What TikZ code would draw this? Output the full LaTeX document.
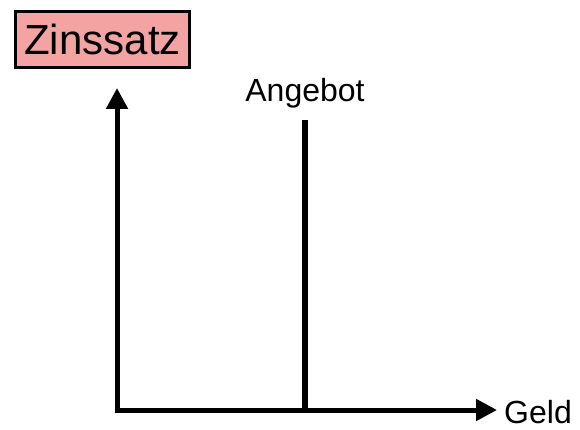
\documentclass[tikz,border=0pt]{standalone}
\usepackage{fontspec}
\setmainfont{Liberation Sans}
\usetikzlibrary{positioning,arrows.meta}
\definecolor{zinsrot}{RGB}{244,163,163}
\tikzstyle{titlebox} = [draw,fill=zinsrot,line width=3,inner xsep=9,inner ysep=3,minimum height=56,font=\fontsize{42}{44}\selectfont]
\tikzstyle{label} = [inner sep=0,font=\fontsize{32}{34}\selectfont]
\tikzstyle{axis} = [line width=5,miter limit=10,{Triangle[length=21,width=21]}-{Triangle[length=21,width=21]}]
\tikzstyle{curve} = [line width=6]

\begin{document}
\begin{tikzpicture}[x=1pt,y=-1pt]
    \useasboundingbox (0,0) rectangle (580,430);
    \node [titlebox] (title) at (102.5,39.5) {Zinssatz};
    \coordinate (o) at (117,410);
    \coordinate (ytop) at (117,88);
    \coordinate (xend) at (497,410);
    \coordinate (s1) at (305,120);
    \coordinate (s0) at (305,410);
    \node [label] (supply) at (305,93) {Angebot};
    \node [label,anchor=west] (money) at (504,412) {Geld};
    \draw [axis] (ytop) -- (o) -- (xend);
    \draw [curve] (s1) -- (s0);
  \end{tikzpicture}
\end{document}
